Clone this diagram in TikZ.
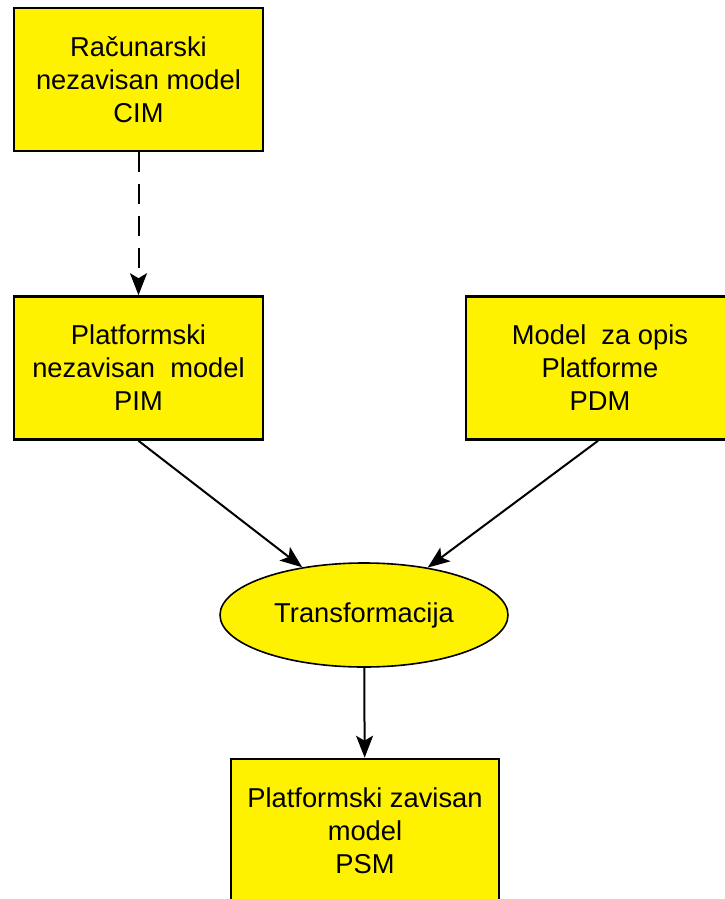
\documentclass[tikz,border=0pt]{standalone}
\usepackage{fontspec}
\setmainfont{Liberation Sans}
\usetikzlibrary{arrows.meta,shapes.geometric}
\begin{document}
\begin{tikzpicture}[x=1pt,y=-1pt,
  box/.style={draw=black,line width=2.6pt,fill=yellow,rectangle,align=center,
    minimum width=249pt,minimum height=143pt,inner sep=0pt,
    font=\fontsize{27.3}{33}\selectfont},
  oval/.style={draw=black,line width=1.6pt,fill=yellow,ellipse,
    minimum width=288pt,minimum height=104pt,inner sep=0pt,
    font=\fontsize{27.3}{33}\selectfont},
  conn/.style={draw=black,line width=2pt,-{Stealth[length=22pt,width=17pt,inset=5pt]}},
  dashconn/.style={conn,dash pattern=on 20pt off 12pt}]
\useasboundingbox (0,0) rectangle (725,899);
\clip (0,0) rectangle (725,899);
\node[box] (cim) at (138.5,79.5) {Računarski\\nezavisan model\\CIM};
\node[box] (pim) at (138.5,368) {Platformski\\nezavisan\ \ model\\PIM};
\node[box,minimum width=268pt] (pdm) at (600,368) {Model\ \ za opis\\Platforme\\PDM};
\node[oval] (tr) at (364,615) {Transformacija};
\node[box,minimum width=268pt,minimum height=144pt] (psm) at (365,831) {Platformski zavisan\\model\\PSM};
\draw[dashconn] (cim) -- (pim);
\draw[conn] (pim.south) -- (tr);
\draw[conn] ([xshift=-2pt]pdm.south) -- (tr);
\draw[conn] (tr) -- (psm);
\end{tikzpicture}
\end{document}
